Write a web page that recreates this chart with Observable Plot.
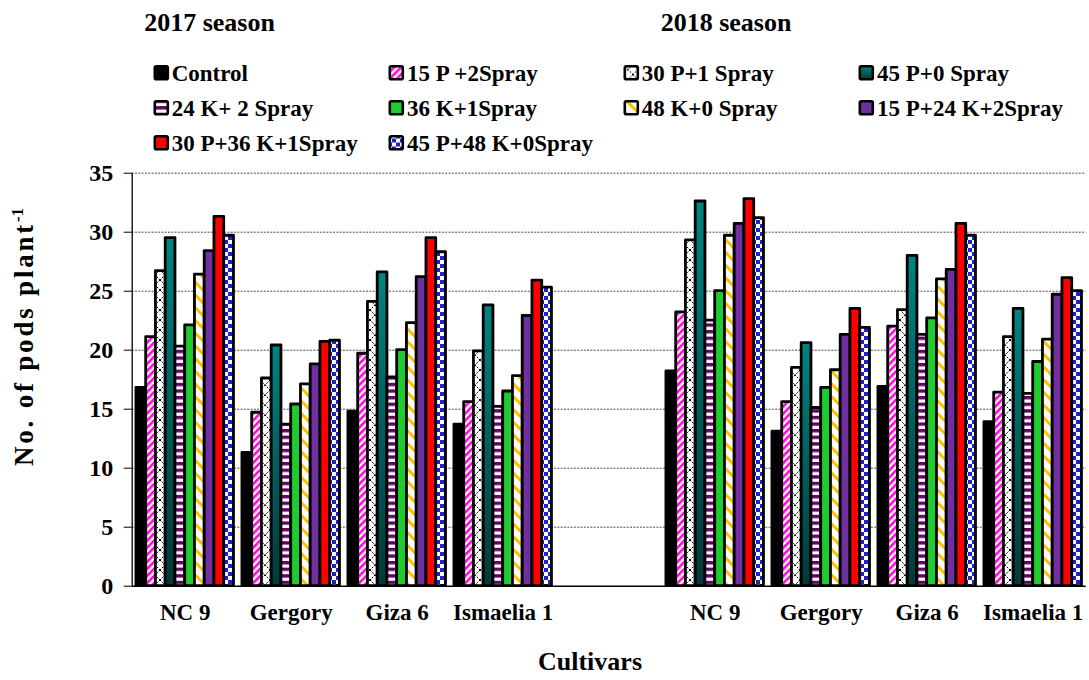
<!DOCTYPE html>
<html><head><meta charset="utf-8">
<script src="https://cdn.jsdelivr.net/npm/d3@7"></script>
<script src="https://cdn.jsdelivr.net/npm/@observablehq/plot@0.6"></script>
<style>
body{margin:0;background:#fff;}
#wrap{position:relative;width:1089px;height:680px;font-family:"Liberation Serif","Times New Roman",serif;font-weight:bold;color:#000;overflow:hidden;background:#fff}
#wrap svg.plot{position:absolute;left:0;top:0}
.t{position:absolute;white-space:nowrap;line-height:1}
.leg{position:absolute;white-space:nowrap;line-height:1;font-size:23px;display:flex;align-items:center}
.leg svg{margin-right:2px;flex:none}
</style></head><body>
<svg width="0" height="0" style="position:absolute">
<defs>
  <pattern id="p15P" width="5" height="5" patternUnits="userSpaceOnUse" patternTransform="rotate(45)">
    <rect width="5" height="5" fill="#FFFFC0"/><rect width="2.6" height="5" fill="#FF00FF"/>
  </pattern>
  <pattern id="p30P" width="10" height="10" patternUnits="userSpaceOnUse">
    <rect width="10" height="10" fill="#fff"/>
    <path d="M0,0L10,10M10,0L0,10" stroke="#000" stroke-width="1" stroke-dasharray="2,1.2"/>
  </pattern>
  <linearGradient id="g45P" x1="0" y1="0" x2="0" y2="1">
    <stop offset="0" stop-color="#008482"/><stop offset="1" stop-color="#063838"/>
  </linearGradient>
  <pattern id="p24K" width="6" height="6.6" patternUnits="userSpaceOnUse">
    <rect width="6" height="6.6" fill="#fff"/><rect width="6" height="3.4" fill="#660066"/>
  </pattern>
  <pattern id="p48K" width="9" height="9" patternUnits="userSpaceOnUse" patternTransform="rotate(-45)">
    <rect width="9" height="9" fill="#fff"/><rect width="3" height="9" fill="#FFC000"/>
  </pattern>
  <pattern id="p4548" width="8" height="8" patternUnits="userSpaceOnUse">
    <rect width="8" height="8" fill="#fff"/><rect width="4" height="4" fill="#2222CC"/><rect x="4" y="4" width="4" height="4" fill="#2222CC"/>
  </pattern>
</defs>
</svg>
<div id="wrap"></div>
<script>
const seasons = ["2017 season", "2018 season"];
const cultivars = ["NC 9", "Gergory", "Giza 6", "Ismaelia 1"];
const treatments = ["Control", "15 P +2Spray", "30 P+1 Spray", "45 P+0 Spray",
  "24 K+ 2 Spray", "36 K+1Spray", "48 K+0 Spray", "15 P+24 K+2Spray",
  "30 P+36 K+1Spray", "45 P+48 K+0Spray"];
const yTicks = [0, 5, 10, 15, 20, 25, 30, 35];

// values: 2017 (NC 9, Gergory, Giza 6, Ismaelia 1), then 2018 (same order)
const control   = [16.8, 11.3, 14.8, 13.7, 18.2, 13.1, 16.9, 13.9];
const p15s2     = [21.1, 14.7, 19.7, 15.6, 23.2, 15.6, 22.0, 16.4];
const p30s1     = [26.7, 17.6, 24.1, 19.9, 29.3, 18.5, 23.4, 21.1];
const p45s0     = [29.5, 20.4, 26.6, 23.8, 32.6, 20.6, 28.0, 23.5];
const k24s2     = [20.3, 13.7, 17.7, 15.2, 22.5, 15.1, 21.3, 16.3];
const k36s1     = [22.1, 15.4, 20.0, 16.5, 25.0, 16.8, 22.7, 19.0];
const k48s0     = [26.4, 17.1, 22.3, 17.8, 29.7, 18.3, 26.0, 20.9];
const p15k24s2  = [28.4, 18.8, 26.2, 22.9, 30.7, 21.3, 26.8, 24.7];
const p30k36s1  = [31.3, 20.7, 29.5, 25.9, 32.8, 23.5, 30.7, 26.1];
const p45k48s0  = [29.7, 20.8, 28.3, 25.3, 31.2, 21.9, 29.7, 25.0];

const seriesValues = [control, p15s2, p30s1, p45s0, k24s2, k36s1, k48s0, p15k24s2, p30k36s1, p45k48s0];
const fills = ["#000000", "url(#p15P)", "url(#p30P)", "url(#g45P)", "url(#p24K)",
  "#1FCB2F", "url(#p48K)", "#7030A0", "#FF0000", "url(#p4548)"];

// category slot: 2017 cultivars 0..3, empty slot 4, 2018 cultivars 5..8
const groupW = 0.92, barW = groupW / treatments.length;
const table = [];
seriesValues.forEach((vals, s) => vals.forEach((v, p) => {
  const season = p < 4 ? 0 : 1, c = p % 4, slot = season * 5 + c;
  const x1 = slot - groupW / 2 + s * barW;
  table.push({s, season: seasons[season], cultivar: cultivars[c], value: v, x1, x2: x1 + barW});
}));

const W = 1089, H = 680;
const plot = Plot.plot({
  width: W, height: H,
  marginLeft: 131.7, marginRight: 3.3, marginTop: 172.7, marginBottom: 94.3,
  style: {fontFamily: '"Liberation Serif","Times New Roman",serif', fontWeight: "bold", color: "#000", background: "transparent"},
  x: {type: "linear", domain: [-0.5, 8.5], axis: null},
  y: {domain: [0, 35], axis: null},
  marks: [
    Plot.gridY(yTicks.filter(d => d > 0), {stroke: "#4a4a4a", strokeOpacity: 1, strokeWidth: 1, strokeDasharray: "2,1.3"}),
    ...treatments.map((t, s) => Plot.rectY(table.filter(d => d.s === s), {
      x1: "x1", x2: "x2", y1: 0, y2: "value", fill: fills[s], stroke: "#000", strokeWidth: 2.8, strokeLinejoin: "round", inset: 0
    })),
    Plot.ruleX([-0.5], {stroke: "#000", strokeWidth: 1.3}),
    Plot.ruleY([0], {stroke: "#000", strokeWidth: 1.5}),
    Plot.axisY({ticks: yTicks, tickSize: 8, tickPadding: 11, fontSize: 24, label: null, tickFormat: d => d}),
    Plot.axisX({ticks: [0, 1, 2, 3, 5, 6, 7, 8], tickFormat: i => cultivars[i % 5], tickSize: 0, tickPadding: 17, fontSize: 23, label: null})
  ]
});
plot.classList.add("plot");
const wrap = document.getElementById("wrap");
wrap.appendChild(plot);

function addText(txt, x, y, size, anchor) {
  const d = document.createElement("div");
  d.className = "t";
  d.textContent = txt;
  d.style.fontSize = size + "px";
  d.style.left = x + "px";
  d.style.top = y + "px";
  d.style.transform = anchor === "middle" ? "translate(-50%,-50%)" : "translate(0,-50%)";
  wrap.appendChild(d);
  return d;
}
addText(seasons[0], 209.5, 23, 26, "middle");
addText(seasons[1], 726, 23, 26, "middle");
addText("Cultivars", 590, 662, 26, "middle");

// y-axis title
const yt = document.createElement("div");
yt.className = "t";
yt.style.fontSize = "27px";
yt.style.letterSpacing = "2.8px";
yt.innerHTML = "No. of pods plant<sup style=\"font-size:0.62em;vertical-align:0.55em;letter-spacing:0\">-1</sup>";
yt.style.left = "24px"; yt.style.top = "337px";
yt.style.transform = "translate(-50%,-50%) rotate(-90deg)";
wrap.appendChild(yt);

// legend
const colX = [152.7, 388, 622.7, 858];
const rowY = [72.7, 108.3, 143.3];
treatments.forEach((t, s) => {
  const r = Math.floor(s / 4), c = s % 4;
  const d = document.createElement("div");
  d.className = "leg";
  d.style.left = colX[c] + "px";
  d.style.top = rowY[r] + "px";
  d.style.transform = "translate(0,-50%)";
  d.innerHTML = `<svg width="17" height="17"><rect x="1.8" y="1.8" width="13" height="13" rx="1.5" fill="${fills[s]}" stroke="#000" stroke-width="2.6"/></svg><span>${t}</span>`;
  wrap.appendChild(d);
});
</script>
</body></html>
